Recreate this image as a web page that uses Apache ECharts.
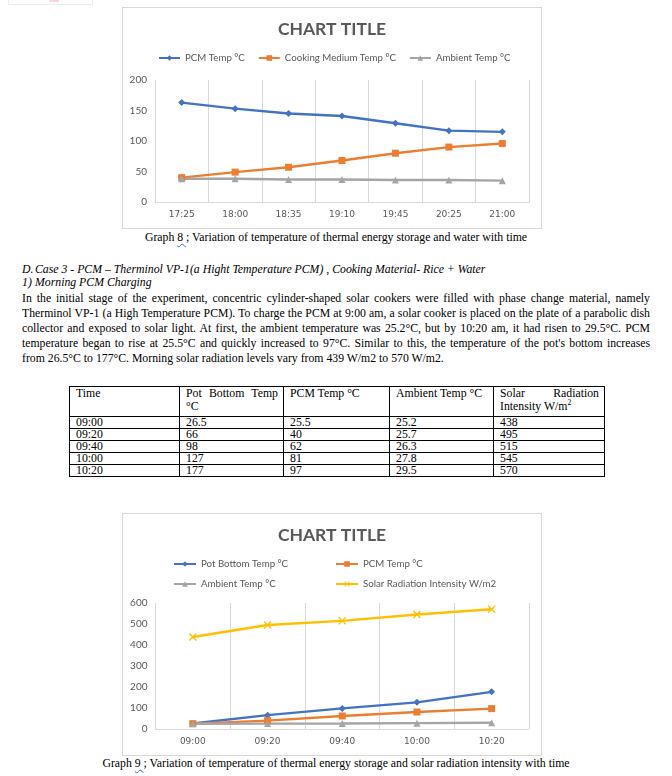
<!DOCTYPE html>
<html><head><meta charset="utf-8">
<script src="https://cdn.jsdelivr.net/npm/echarts@6/dist/echarts.min.js"></script>
<style>
html,body{margin:0;padding:0;background:#fff;}
#page{position:relative;width:672px;height:776px;overflow:hidden;font-family:"Liberation Serif","Times New Roman",serif;color:#000;}
.chart{position:absolute;outline:1px solid #d9d9d9;outline-offset:-1px;}
.cap{position:absolute;left:0;width:672px;text-align:center;white-space:nowrap;line-height:14px;}
.sq{text-decoration:underline wavy #3f6fd8;text-decoration-thickness:1px;text-underline-offset:2px;}
.it{position:absolute;left:22px;font-style:italic;white-space:nowrap;line-height:13px;}
.it .lab{display:inline-block;width:13px;}
.para{position:absolute;left:22px;width:628px;top:291px;}
.para div{line-height:15px;white-space:nowrap;text-align:justify;text-align-last:justify;}
.para div.last{text-align-last:left;}
table{position:absolute;border-collapse:collapse;table-layout:fixed;}
td{border:1px solid #000;padding:0 5px 0 6px;vertical-align:top;line-height:11px;height:11px;overflow:hidden;white-space:nowrap;}
td .j{display:block;text-align:justify;text-align-last:justify;}
tr.hd td{height:29px;line-height:13px;}
sup{font-size:65%;line-height:0;vertical-align:super;}
#topbox{position:absolute;left:8px;top:-1px;width:83px;height:4px;border:1px solid #ececec;}
#topbox i{position:absolute;left:40px;top:-1px;width:10px;height:3px;border-radius:5px;background:#f7d6d6;}
</style>
</head><body>
<div id="page">
  <div id="topbox"><i></i></div>
  <div id="c1" class="chart" style="left:122px;top:7px;width:420px;height:222px;"></div>
  <div class="cap serif" style="top:231px;">Graph <span class="sq">8 </span>; Variation of temperature of thermal energy storage and water with time</div>
  <div class="it serif" style="top:263px;"><span class="lab">D.</span>Case 3 - PCM – Therminol VP-1(a Hight Temperature PCM) , Cooking Material- Rice + Water</div>
  <div class="it serif" style="top:276px;"><span class="lab">1)</span>Morning PCM Charging</div>
  <div class="para serif" id="para">
    <div>In the initial stage of the experiment, concentric cylinder-shaped solar cookers were filled with phase change material, namely</div>
    <div>Therminol VP-1 (a High Temperature PCM). To charge the PCM at 9:00 am, a solar cooker is placed on the plate of a parabolic dish</div>
    <div>collector and exposed to solar light. At first, the ambient temperature was 25.2°C, but by 10:20 am, it had risen to 29.5°C. PCM</div>
    <div>temperature began to rise at 25.5°C and quickly increased to 97°C. Similar to this, the temperature of the pot's bottom increases</div>
    <div class="last">from 26.5°C to 177°C. Morning solar radiation levels vary from 439 W/m2 to 570 W/m2.</div>
  </div>
  <table id="tbl" class="serif" style="left:69px;top:386px;width:535px;"></table>
  <div id="c2" class="chart" style="left:122px;top:513px;width:420px;height:243px;"></div>
  <div class="cap serif" id="cap9" style="top:757px;">Graph <span class="sq">9 </span>; Variation of temperature of thermal energy storage and solar radiation intensity with time</div>
</div>
<script>
// ---- Graph 8 data ----
const times1 = ['17:25','18:00','18:35','19:10','19:45','20:25','21:00'];
const pcmTemp1 = [163, 153, 145, 141, 129, 117, 115];
const cookingTemp1 = [40, 49, 57, 68, 80, 90, 96];
const ambientTemp1 = [38, 38, 37, 37, 36, 36, 35];
const names1 = ['PCM Temp °C', 'Cooking Medium Temp °C', 'Ambient Temp °C'];
const yTicks1 = {min: 0, max: 200, interval: 50};

// ---- Graph 9 / table data ----
const times2 = ['09:00','09:20','09:40','10:00','10:20'];
const potBottom2 = [26.5, 66, 98, 127, 177];
const pcmTemp2 = [25.5, 40, 62, 81, 97];
const ambientTemp2 = [25.2, 25.7, 26.3, 27.8, 29.5];
const solar2 = [438, 495, 515, 545, 570];
const names2 = ['Pot Bottom Temp °C', 'PCM Temp °C', 'Ambient Temp °C', 'Solar Radiation Intensity W/m2'];
const yTicks2 = {min: 0, max: 600, interval: 100};

// ---- serif text sizing (fit caption 9 width) ----
(function(){
  const cv = document.createElement('canvas').getContext('2d');
  cv.font = '100px "Liberation Serif"';
  const capText = document.getElementById('cap9').textContent;
  let fs = 100 * 468 / cv.measureText(capText).width;
  document.querySelectorAll('.serif').forEach(e => e.style.fontSize = fs + 'px');
  const lines = Array.from(document.querySelectorAll('#para div:not(.last)'));
  let mx = 0;
  lines.forEach(l => { mx = Math.max(mx, cv.measureText(l.textContent).width); });
  const fsp = Math.min(fs, 100 * 624 / mx);
  document.getElementById('para').style.fontSize = fsp + 'px';
})();

// ---- table ----
(function(){
  const t = document.getElementById('tbl');
  const widths = [110, 104, 106, 104, 111];
  let h = '<colgroup>' + widths.map(w => '<col style="width:' + w + 'px">').join('') + '</colgroup>';
  h += '<tr class="hd"><td>Time</td><td><span class="j">Pot Bottom Temp</span>°C</td><td>PCM Temp °C</td><td>Ambient Temp °C</td><td><span class="j">Solar Radiation</span>Intensity W/m<sup>2</sup></td></tr>';
  times2.forEach((tm, i) => {
    h += '<tr><td>' + tm + '</td><td>' + potBottom2[i] + '</td><td>' + pcmTemp2[i] + '</td><td>' + ambientTemp2[i] + '</td><td>' + solar2[i] + '</td></tr>';
  });
  t.innerHTML = h;
})();

const FONT = 'Lato';
const GRAY = '#595959';
const GRID_C = '#d9d9d9';
const COLORS = ['#4472C4', '#ED7D31', '#A5A5A5', '#FFC000'];
const XSYM = 'path://M0,1.2L1.2,0L5,3.8L8.8,0L10,1.2L6.2,5L10,8.8L8.8,10L5,6.2L1.2,10L0,8.8L3.8,5Z';

function axes(cats, yt){
  return {
    xAxis: {type: 'category', data: cats, boundaryGap: true,
      axisLine: {lineStyle: {color: GRID_C, width: 1}}, axisTick: {show: false},
      splitLine: {show: true, lineStyle: {color: GRID_C, width: 1}},
      axisLabel: {fontFamily: 'DejaVu Sans', fontSize: 9, color: GRAY, margin: 8}},
    yAxis: {type: 'value', min: yt.min, max: yt.max, interval: yt.interval,
      axisLine: {show: false}, axisTick: {show: false}, splitLine: {show: false},
      axisLabel: {fontFamily: FONT, fontSize: 10, color: GRAY, margin: 8}}
  };
}
function ser(name, data, color, symbol, size){
  return {name, type: 'line', data, symbol, symbolSize: size, showSymbol: true,
    lineStyle: {color, width: 2.4}, itemStyle: {color}, emphasis: {disabled: true}};
}
const titleOpt = {text: 'CHART TITLE', left: 'center', top: 8, padding: 5,
  textStyle: {fontFamily: FONT, fontSize: 17.5, fontWeight: 'bold', color: GRAY}};
const legText = {fontFamily: FONT, fontSize: 9.7, color: GRAY};

const c1 = echarts.init(document.getElementById('c1'), null, {renderer: 'canvas'});
c1.setOption(Object.assign({
  animation: false,
  title: titleOpt,
  legend: {left: 36, top: 46, padding: 0, itemWidth: 21, itemHeight: 7, itemGap: 13, textStyle: legText, data: names1},
  grid: {left: 33, right: 13, top: 73, bottom: 27}
}, axes(times1, yTicks1), {
  series: [
    ser(names1[0], pcmTemp1, COLORS[0], 'diamond', 7),
    ser(names1[1], cookingTemp1, COLORS[1], 'rect', 7),
    ser(names1[2], ambientTemp1, COLORS[2], 'triangle', 7)
  ]
}));

const c2 = echarts.init(document.getElementById('c2'), null, {renderer: 'canvas'});
const leg2 = (n, l, t) => ({left: l, top: t, padding: 0, itemWidth: 22, itemHeight: 7, textStyle: legText, data: [n]});
c2.setOption(Object.assign({
  animation: false,
  title: titleOpt,
  legend: [leg2(names2[0], 51, 46), leg2(names2[1], 213, 46), leg2(names2[2], 51, 66), leg2(names2[3], 213, 66)],
  grid: {left: 33.5, right: 13, top: 90, bottom: 27}
}, axes(times2, yTicks2), {
  series: [
    ser(names2[0], potBottom2, COLORS[0], 'diamond', 7),
    ser(names2[1], pcmTemp2, COLORS[1], 'rect', 7),
    ser(names2[2], ambientTemp2, COLORS[2], 'triangle', 7),
    ser(names2[3], solar2, COLORS[3], XSYM, 8)
  ]
}));
</script>
</body></html>
